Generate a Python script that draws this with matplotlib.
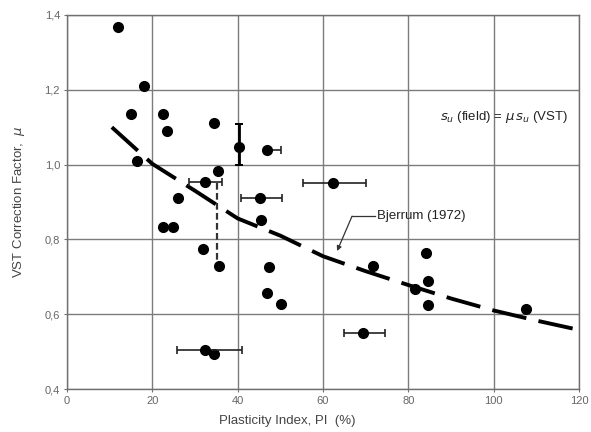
import matplotlib
matplotlib.use("Agg")
import matplotlib.pyplot as plt

# plain field points (PI %, mu)
pi_pts = [12, 18, 15, 22.4, 23.4, 34.5, 16.3, 35.5, 25.9, 22.6, 24.9, 31.8,
          35.7, 45.5, 47.4, 46.9, 50.2, 71.6, 84.1, 84.5, 81.6, 84.5, 107.6, 34.5]
mu_pts = [1.367, 1.211, 1.135, 1.135, 1.091, 1.110, 1.010, 0.984, 0.910, 0.834, 0.834, 0.774,
          0.729, 0.852, 0.727, 0.658, 0.626, 0.730, 0.764, 0.689, 0.667, 0.625, 0.614, 0.494]

# points with error bars: (PI, mu, xerr-, xerr+, yerr-, yerr+)
err_pi = [40.2, 46.8, 32.3, 62.4, 45.2, 69.4, 32.3]
err_mu = [1.046, 1.039, 0.953, 0.952, 0.910, 0.551, 0.505]
err_xlo = [0, 0, 3.6, 7.2, 4.5, 4.4, 6.6]
err_xhi = [0, 3.3, 4.0, 7.7, 5.3, 5.1, 8.6]
err_ylo = [0.046, 0, 0, 0, 0, 0, 0]
err_yhi = [0.062, 0, 0, 0, 0, 0, 0]

# range line between two tests on the same clay
range_pi = [35.2, 35.2]
range_mu = [0.951, 0.737]

# Bjerrum (1972) curve
bj_pi = [10.5, 20, 30, 40, 50, 60, 70, 80, 90, 100, 110, 120]
bj_mu = [1.100, 1.002, 0.930, 0.856, 0.810, 0.755, 0.715, 0.678, 0.642, 0.610, 0.583, 0.558]

x_ticks = [0, 20, 40, 60, 80, 100, 120]
y_ticks = [0.4, 0.6, 0.8, 1.0, 1.2, 1.4]
y_ticklabels = ["0,4", "0,6", "0,8", "1,0", "1,2", "1,4"]

plt.rcParams["font.family"] = ["Liberation Sans", "DejaVu Sans"]
fig = plt.figure(figsize=(5.91, 4.32), dpi=100)
ax = fig.add_axes([0.1134, 0.0995, 0.8663, 0.8658])

ax.grid(True, color="#7c7c7c", lw=1.0)
ax.set_axisbelow(True)
for s in ax.spines.values():
    s.set_color("#707070")
    s.set_linewidth(1.0)

ax.plot(bj_pi, bj_mu, color="black", lw=2.8, dashes=(9, 3.2), zorder=3)
ax.plot(range_pi, range_mu, color="#333333", lw=1.6, dashes=(3, 1.5), zorder=3)

ax.plot(pi_pts, mu_pts, "o", color="black", ms=7, zorder=4)
ax.errorbar(err_pi, err_mu,
            xerr=[err_xlo, err_xhi], yerr=[err_ylo, err_yhi],
            fmt="o", color="black", ms=7, ecolor="#222222",
            elinewidth=1.2, capsize=3, capthick=1.2, zorder=4)
# the vertical bar is drawn heavier in the original
ax.errorbar([err_pi[0]], [err_mu[0]], yerr=[[err_ylo[0]], [err_yhi[0]]],
            fmt="none", ecolor="black", elinewidth=2.0, capsize=3, capthick=1.4, zorder=4)

ax.text(117.5, 1.128, r"$s_u$ (field) = $\mu\,s_u$ (VST)", ha="right", va="center",
        fontsize=9.5, color="#222222")

ax.annotate("", xy=(63.3, 0.769), xytext=(66.8, 0.862),
            arrowprops=dict(arrowstyle="-|>", color="#333333", lw=0.9,
                            mutation_scale=7, shrinkA=0, shrinkB=0), zorder=5)
ax.plot([66.8, 72.3], [0.862, 0.862], color="#333333", lw=0.9, zorder=5)
ax.text(72.6, 0.862, "Bjerrum (1972)", ha="left", va="center", fontsize=9.5, color="#222222")

ax.set_xlim(0, 120)
ax.set_ylim(0.4, 1.4)
ax.set_xticks(x_ticks)
ax.set_yticks(y_ticks)
ax.set_yticklabels(y_ticklabels)
ax.tick_params(length=2, color="#707070", labelsize=8, labelcolor="#666666", pad=3)

ax.set_xlabel("Plasticity Index, PI  (%)", fontsize=9.5, color="#444444", labelpad=6)
ax.xaxis.set_label_coords(0.43, -0.07)
ax.set_ylabel(r"VST Correction Factor,  $\mu$", fontsize=9.5, color="#444444", labelpad=13)

fig.savefig("out.png", dpi=100)
